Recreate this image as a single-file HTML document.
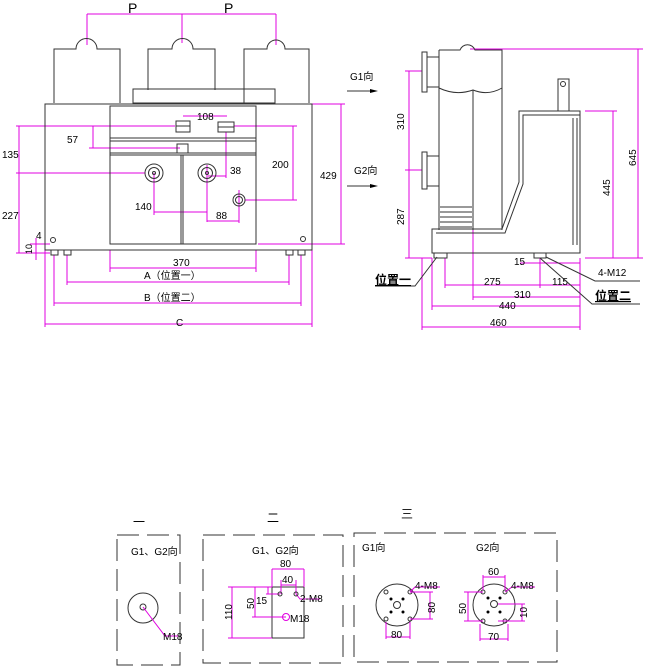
<!DOCTYPE html>
<html><head><meta charset="utf-8"><style>
html,body{margin:0;padding:0;background:#fff;}
svg{display:block;}
text{font-family:"Liberation Sans","Noto Sans CJK SC",sans-serif;font-size:10px;fill:#000;}
.k{stroke:#333;stroke-width:1;fill:none;}
.m{stroke:#e000e0;stroke-width:1;fill:none;}
.d{stroke:#333;stroke-width:1;fill:none;stroke-dasharray:22 8;}
.b{font-weight:bold;font-size:12px;text-decoration:underline;}
</style></head><body>
<svg width="650" height="667" viewBox="0 0 650 667" xmlns="http://www.w3.org/2000/svg">
<!-- FRONT VIEW -->
<g class="m">
<path d="M87 14H276M87 14V45M182 14V43M276 14V45"/>
<path d="M258 104H345M341 104V244M258 244H345"/>
<path d="M234 126H297M245 200H297M293 126V200"/>
<path d="M183 116H227"/>
<path d="M16 126H175M16 173H145M16 253H50M19 126V253"/>
<path d="M89 148H180M93 126V148"/>
<path d="M226 132V178M208 176H226"/>
<path d="M154 173V215M207 165V222M154 212H207"/>
<path d="M207 221H239M239 190V223"/>
<path d="M30 244H50M30 253H50M36 238V260"/>
<path d="M110 250V272M256 250V272M110 268H256"/>
<path d="M67 255V285M289 255V285M67 282H289"/>
<path d="M54 255V306M301 255V306M54 303H301"/>
<path d="M45 250V327M312 250V327M45 324H312"/>
</g>
<g fill="#000" font-size="14"><text x="128" y="13" style="font-size:14px">P</text><text x="224" y="13" style="font-size:14px">P</text></g>
<g class="k">
<path d="M54 103V49H76A9 9 0 0 1 97 49H120V103"/>
<path d="M148 90V49H172A9 9 0 0 1 193 49H215V90"/>
<path d="M244 103V49H267A9 9 0 0 1 285 49H309V103"/>
<rect x="133" y="89" width="142" height="14"/>
<rect x="45" y="104" width="267" height="146"/>
<rect x="110" y="106" width="146" height="138"/>
<path d="M110 138H256M110 141H256M110 153H256M110 155H256M181 155V244M183 155V244"/>
<rect x="176" y="121" width="14" height="11"/><path d="M176 126H190"/>
<rect x="218" y="122" width="16" height="10"/><path d="M218 127H234"/>
<rect x="177" y="144" width="11" height="9"/>
<circle cx="154" cy="173" r="9"/><circle cx="154" cy="173" r="5.5"/><circle cx="154" cy="173" r="1.5"/>
<circle cx="207" cy="173" r="9"/><circle cx="207" cy="173" r="5.5"/><circle cx="207" cy="173" r="1.5"/>
<circle cx="239" cy="200" r="6"/><circle cx="239" cy="200" r="3.5"/>
<circle cx="53" cy="240" r="2.5"/><circle cx="303" cy="239" r="2.5"/>
<rect x="51" y="250" width="7" height="5"/><rect x="64" y="250" width="7" height="5"/>
<rect x="286" y="250" width="7" height="5"/><rect x="298" y="250" width="7" height="5"/>
</g>
<text x="197" y="120">108</text><text x="67" y="143">57</text>
<text x="2" y="158">135</text><text x="2" y="219">227</text>
<text x="272" y="168">200</text><text x="320" y="179">429</text>
<text x="230" y="174">38</text><text x="135" y="210">140</text><text x="216" y="219">88</text>
<text x="36" y="239">4</text>
<text x="32" y="254" transform="rotate(-90 32 254)" style="font-size:9px">10</text>
<text x="173" y="266">370</text>
<text x="144" y="279">A（位置一）</text>
<text x="144" y="301">B（位置二）</text>
<text x="176" y="326">C</text>
<!-- arrows -->
<text x="350" y="80">G1向</text><path class="k" d="M347 91H376"/><path d="M370 89L378 91L370 93Z"/>
<text x="354" y="174">G2向</text><path class="k" d="M347 186H376"/><path d="M370 184L378 186L370 188Z"/>
<!-- SIDE VIEW -->
<g class="m">
<path d="M470 49H643M638 49V258"/>
<path d="M405 71H422M405 170H422M405 258H432M409 71V258"/>
<path d="M585 111H617M613 111V258M585 258H643"/>
<path d="M422 258V330M432 258V310M445 258V288M473 230V300M540 258V288M580 258V330"/>
<path d="M520 263H580M445 285H580M473 297H580M432 306H580M422 327H580"/>
</g>
<text x="404" y="130" transform="rotate(-90 404 130)">310</text>
<text x="404" y="225" transform="rotate(-90 404 225)">287</text>
<text x="636" y="166" transform="rotate(-90 636 166)">645</text>
<text x="610" y="196" transform="rotate(-90 610 196)">445</text>
<text x="514" y="265">15</text><text x="484" y="285">275</text><text x="552" y="285">115</text>
<text x="514" y="298">310</text><text x="499" y="309">440</text><text x="490" y="326">460</text>
<g class="k">
<rect x="422" y="52" width="5" height="40"/><rect x="427" y="57" width="12" height="30"/>
<rect x="422" y="152" width="5" height="37"/><rect x="427" y="156" width="12" height="30"/>
<path d="M439 50H460A8 8 0 0 1 475 50H502V230M439 50V230"/>
<path d="M439 88Q456 96 473 90Q488 96 502 88M473 90V230"/>
<path d="M439 97V205"/>
<path d="M440 207H472M440 212H472M440 217H472M440 222H472M440 227H472"/>
<path d="M432 229H502L519 182V111H580V253H432Z"/>
<path d="M436 233H505L523 184V115H580"/>
<path d="M573 118V245M577 118V245"/>
<rect x="558" y="79" width="11" height="32"/><circle cx="563" cy="84" r="2.5"/>
<rect x="434" y="253" width="13" height="5"/><rect x="534" y="253" width="12" height="5"/>
<path d="M437 257L415 286H375"/>
<path d="M546 257L595 281H640"/>
<path d="M540 258L592 304H640"/>
</g>
<text x="375" y="284" class="b">位置一</text>
<text x="598" y="276">4-M12</text>
<text x="595" y="300" class="b">位置二</text>
<!-- BOTTOM VIEWS -->
<text x="133" y="526" style="font-size:12px">一</text>
<text x="267" y="522" style="font-size:12px">二</text>
<text x="401" y="518" style="font-size:12px">三</text>
<rect class="d" x="117" y="535" width="63" height="130"/>
<rect class="d" x="203" y="535" width="140" height="128"/>
<rect class="d" x="354" y="533" width="203" height="129"/>
<text x="131" y="555">G1、G2向</text>
<circle class="k" cx="143" cy="608" r="15"/><circle class="k" cx="143" cy="607" r="3"/>
<path class="m" d="M143 607L165 636H178"/><text x="163" y="640">M18</text>
<text x="252" y="554">G1、G2向</text>
<rect class="k" x="272" y="587" width="32" height="51"/>
<g class="m">
<path d="M272 569H304M272 569V587M304 569V587"/>
<path d="M281 585H296M281 580V594M296 580V594"/>
<path d="M228 587H272M228 638H272M232 587V638"/>
<path d="M252 587H272M252 617H286M255 587V617"/>
<path d="M266 594H280M268 587V594"/>
<circle cx="286" cy="617" r="3.5"/><path d="M296 594L300 599H320"/>
</g>
<circle class="k" cx="280" cy="594" r="2"/><circle class="k" cx="296" cy="594" r="2"/>
<text x="280" y="567">80</text><text x="282" y="583">40</text>
<text x="256" y="604">15</text><text x="300" y="602">2-M8</text><text x="290" y="622">M18</text>
<text x="254" y="609" transform="rotate(-90 254 609)">50</text>
<text x="232" y="620" transform="rotate(-90 232 620)">110</text>
<text x="362" y="551">G1向</text><text x="476" y="551">G2向</text>
<g class="k">
<circle cx="397" cy="605" r="21"/><circle cx="397" cy="605" r="3.5"/>
<circle cx="386" cy="592" r="2"/><circle cx="410" cy="592" r="2"/><circle cx="386" cy="619" r="2"/><circle cx="410" cy="619" r="2"/>
<circle cx="494" cy="605" r="21"/><circle cx="494" cy="604" r="3.5"/>
<circle cx="483" cy="592" r="2"/><circle cx="505" cy="592" r="2"/><circle cx="483" cy="621" r="2"/><circle cx="505" cy="621" r="2"/>
</g>
<g fill="#000">
<circle cx="391" cy="599" r="1.5"/><circle cx="403" cy="599" r="1.5"/><circle cx="391" cy="612" r="1.5"/><circle cx="403" cy="612" r="1.5"/>
<circle cx="488" cy="598" r="1.5"/><circle cx="500" cy="598" r="1.5"/><circle cx="488" cy="612" r="1.5"/><circle cx="500" cy="612" r="1.5"/>
</g>
<g class="m">
<path d="M410 592L415 587H440"/><path d="M410 592H433M410 619H433M430 592V619"/>
<path d="M386 622V639M410 622V639M386 637H410"/>
<path d="M483 575V590M505 575V590M483 577H505"/><path d="M505 592L512 587H535"/>
<path d="M464 592H483M464 621H483M468 592V621"/>
<path d="M498 604H525M498 621H525M522 604V621"/>
<path d="M480 624V641M508 624V641M480 639H508"/>
</g>
<text x="415" y="589">4-M8</text><text x="511" y="589">4-M8</text>
<text x="435" y="613" transform="rotate(-90 435 613)">80</text>
<text x="466" y="614" transform="rotate(-90 466 614)">50</text>
<text x="527" y="618" transform="rotate(-90 527 618)">10</text>
<text x="391" y="638">80</text><text x="488" y="575">60</text><text x="488" y="640">70</text>
</svg>
</body></html>
